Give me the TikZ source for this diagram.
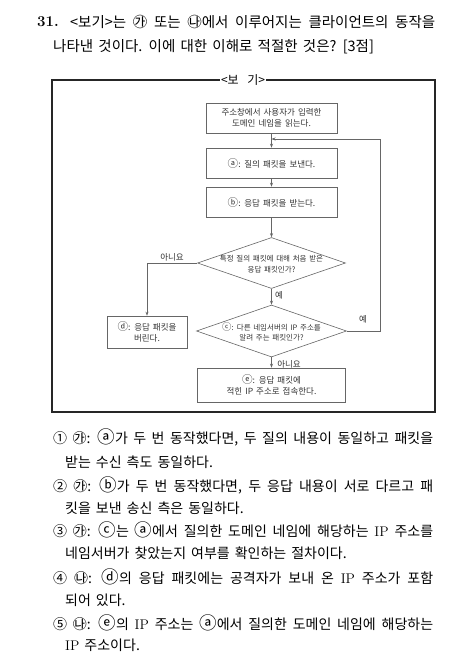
\documentclass[tikz,border=0pt]{standalone}
\usepackage{fontspec}
\newfontfamily\kr{Noto Sans CJK KR}
\newfontfamily\krw[WordSpace=1.6]{Noto Sans CJK KR}
\newfontfamily\krbig[Scale=1.25]{Noto Sans CJK KR}
\newcommand\cc[1]{{\krbig #1}}
\usetikzlibrary{shapes.geometric,arrows.meta}
\begin{document}
\begin{tikzpicture}[x=1pt,y=-1pt,
  fbox/.style={draw=black!60, line width=0.6pt, minimum width=131pt, minimum height=30pt, inner sep=1pt, align=center, font=\krw\fontsize{8.5}{11.5}\selectfont, text=black!80},
  dia/.style={draw=black!60, line width=0.6pt, diamond, inner sep=0pt},
  ln/.style={draw=black!60, line width=0.6pt},
  arr/.style={ln, -{Stealth[length=4pt,width=3pt]}},
  lab/.style={font=\kr\fontsize{8.5}{10}\selectfont, text=black!80, inner sep=1pt},
  dtxt/.style={font=\krw\fontsize{7.5}{10.5}\selectfont, text=black!80, inner sep=0pt, align=center},
  opt/.style={font=\krw\fontsize{14}{16}\selectfont, anchor=west, inner sep=0pt},
  ttl/.style={font=\krw\fontsize{14.5}{16}\selectfont, anchor=west, inner sep=0pt},
]
\useasboundingbox (0,0) rectangle (453,672);
\fill[white] (0,0) rectangle (453,672);

% title
\node[anchor=west, inner sep=0pt, font=\fontsize{15}{17}\selectfont\bfseries] (num) at (37,22) {31.};
\node[ttl] (t1) at (70,22) {\makebox[365pt][s]{<보기>는 ㉮ 또는 ㉯에서 이루어지는 클라이언트의 동작을}};
\node[ttl] (t2) at (53,47) {나타낸 것이다. 이에 대한 이해로 적절한 것은? [3점]};

% frame
\draw[line width=1.3pt, black!85] (52,80) rectangle (435,412);
\node[fill=white, font=\kr\fontsize{12}{14}\selectfont, inner sep=1pt] (bogi) at (243,80) {<보\ \ 기>};

% flowchart nodes
\node[fbox] (s0) at (271.5,118) {주소창에서 사용자가 입력한\\도메인 네임을 읽는다.};
\node[fbox] (sa) at (271.5,163) {\cc{ⓐ}: 질의 패킷을 보낸다.};
\node[fbox] (sb) at (271.5,202) {\cc{ⓑ}: 응답 패킷을 받는다.};
\node[dia, minimum width=148pt, minimum height=51pt] (d1) at (271.5,263) {};
\node[dtxt] (d1t) at (271.5,264) {특정 질의 패킷에 대해 처음 받은\\응답 패킷인가?};
\node[dia, minimum width=150pt, minimum height=52pt] (d2) at (271.5,331) {};
\node[dtxt] (d2t) at (271.5,332) {\cc{ⓒ}: 다른 네임서버의 IP 주소를\\알려 주는 패킷인가?};
\node[fbox, minimum width=80pt, minimum height=32pt] (sd) at (147,332) {\cc{ⓓ}: 응답 패킷을\\버린다.};
\node[fbox, minimum width=148pt, minimum height=34pt] (se) at (271.5,385) {\cc{ⓔ}: 응답 패킷에\\적힌 IP 주소로 접속한다.};

\coordinate (jn) at (271.5,139);
\coordinate (rc) at (380,139);

% connectors
\draw[arr] (s0) -- (sa);
\draw[arr] (sa) -- (sb);
\draw[arr] (sb) -- (d1);
\draw[arr] (d1) -- (d2);
\draw[arr] (d2) -- (se);
\draw[arr] (d1.west) -| (sd.north);
\draw[arr] (d2.east) -| (rc) -- (jn);

% labels
\node[lab] (l1) at (172,257) {아니요};
\node[lab] (l2) at (279,295) {예};
\node[lab] (l3) at (363,319) {예};
\node[lab] (l4) at (289,364) {아니요};

% options
\node[opt] (o1a) at (53,437) {\makebox[380pt][s]{① ㉮: \cc{ⓐ}가 두 번 동작했다면, 두 질의 내용이 동일하고 패킷을}};
\node[opt] (o1b) at (65,462) {받는 수신 측도 동일하다.};
\node[opt] (o2a) at (53,485) {\makebox[380pt][s]{② ㉮: \cc{ⓑ}가 두 번 동작했다면, 두 응답 내용이 서로 다르고 패}};
\node[opt] (o2b) at (65,508) {킷을 보낸 송신 측은 동일하다.};
\node[opt] (o3a) at (53,530) {\makebox[380pt][s]{③ ㉮: \cc{ⓒ}는 \cc{ⓐ}에서 질의한 도메인 네임에 해당하는 {\rmfamily IP} 주소를}};
\node[opt] (o3b) at (65,553) {네임서버가 찾았는지 여부를 확인하는 절차이다.};
\node[opt] (o4a) at (53,577) {\makebox[380pt][s]{④ ㉯: \cc{ⓓ}의 응답 패킷에는 공격자가 보내 온 {\rmfamily IP} 주소가 포함}};
\node[opt] (o4b) at (65,600) {되어 있다.};
\node[opt] (o5a) at (53,623) {\makebox[380pt][s]{⑤ ㉯: \cc{ⓔ}의 {\rmfamily IP} 주소는 \cc{ⓐ}에서 질의한 도메인 네임에 해당하는}};
\node[opt] (o5b) at (65,645) {{\rmfamily IP} 주소이다.};
\end{tikzpicture}
\end{document}
